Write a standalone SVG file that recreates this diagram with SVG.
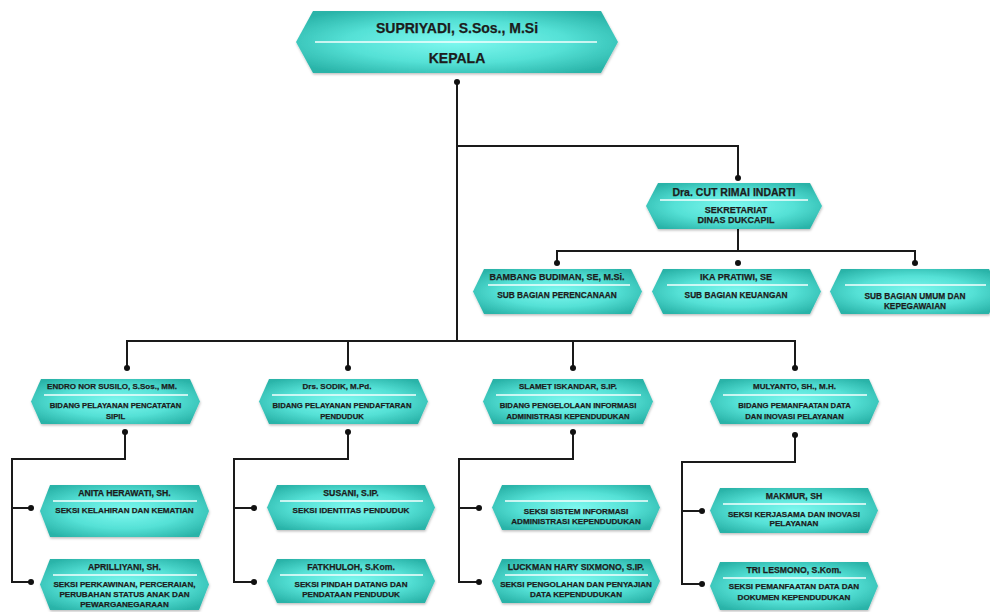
<svg xmlns="http://www.w3.org/2000/svg" width="990" height="612" viewBox="0 0 990 612">
<defs>
<radialGradient id="g" cx="50%" cy="50%" r="62%">
<stop offset="0" stop-color="#7ef8ef"/>
<stop offset="0.55" stop-color="#55e1d6"/>
<stop offset="1" stop-color="#29b3a8"/>
</radialGradient>
<filter id="sh" x="-10%" y="-20%" width="120%" height="150%">
<feDropShadow dx="0.5" dy="1.5" stdDeviation="1.2" flood-color="#000" flood-opacity="0.25"/>
</filter>
</defs>
<style>
.n{fill:url(#g);filter:url(#sh)}
.dv{stroke:#f4fffe;stroke-width:1.6}
text{font-family:"Liberation Sans",Arial,sans-serif;font-weight:bold;fill:#1c1c1c;stroke:#1c1c1c;stroke-width:0.25;text-anchor:middle}
.t1{font-size:14px}
.sn{font-size:10.5px}
.sb{font-size:9px}
.s2n{font-size:9px}
.s2b{font-size:8.3px}
.bn{font-size:8px}
.bb{font-size:7.7px}
.kn{font-size:8.7px}
.kb{font-size:8.1px}
.c{stroke:#1a1a1a;stroke-width:2;fill:none}
.d{fill:#111}
</style>
<rect width="990" height="612" fill="#fff"/>

<g id="connectors">
<path class="c" d="M457 82V341M457 146H738V178M738 229V251M557 263V251H915V263M127 368V341H795V368M348 341V368M573 341V368"/>
<path class="c" d="M125 432V459H12V582H31M12 508H31"/>
<path class="c" d="M348 432V459H234V582H254M234 508H254"/>
<path class="c" d="M573 432V459H459V582H479M459 508H479"/>
<path class="c" d="M795 435V462H682V584H702M682 511H702"/>
<g class="d">
<circle cx="457" cy="82" r="3"/><circle cx="738" cy="178" r="3"/>
<circle cx="557" cy="263" r="3"/><circle cx="738" cy="263" r="3"/><circle cx="915" cy="263" r="3"/>
<circle cx="127" cy="368" r="3"/><circle cx="348" cy="368" r="3"/><circle cx="573" cy="368" r="3"/><circle cx="795" cy="368" r="3"/>
<circle cx="125" cy="432" r="3"/><circle cx="348" cy="432" r="3"/><circle cx="573" cy="432" r="3"/><circle cx="795" cy="435" r="3"/>
<circle cx="31" cy="508" r="3"/><circle cx="31" cy="582" r="3"/>
<circle cx="254" cy="508" r="3"/><circle cx="254" cy="582" r="3"/>
<circle cx="479" cy="508" r="3"/><circle cx="479" cy="582" r="3"/>
<circle cx="702" cy="511" r="3"/><circle cx="702" cy="584" r="3"/>
</g>
</g>

<g id="kepala">
<polygon class="n" points="296,42 313,11 601,11 618,42 601,73 313,73"/>
<line class="dv" x1="315" y1="42" x2="597" y2="42"/>
<text class="t1" x="457" y="33">SUPRIYADI, S.Sos., M.Si</text>
<text class="t1" x="457" y="63">KEPALA</text>
</g>

<g id="sekretariat">
<polygon class="n" points="646,206 658,183 810,183 822,206 810,229 658,229"/>
<line class="dv" x1="660" y1="200" x2="808" y2="200"/>
<text class="sn" x="734" y="196">Dra. CUT RIMAI INDARTI</text>
<text class="sb" x="736" y="213">SEKRETARIAT</text>
<text class="sb" x="736" y="222.5">DINAS DUKCAPIL</text>
</g>

<g id="sub-perencanaan">
<polygon class="n" points="473,291.5 484,269 631,269 642,291.5 631,314 484,314"/>
<line class="dv" x1="488" y1="285" x2="630" y2="285"/>
<text class="s2n" x="557" y="280">BAMBANG BUDIMAN, SE, M.Si.</text>
<text class="s2b" x="557" y="298">SUB BAGIAN PERENCANAAN</text>
</g>

<g id="sub-keuangan">
<polygon class="n" points="652,291.5 663,269 810,269 821,291.5 810,314 663,314"/>
<line class="dv" x1="667" y1="285" x2="808" y2="285"/>
<text class="s2n" x="736" y="280">IKA PRATIWI, SE</text>
<text class="s2b" x="736" y="298">SUB BAGIAN KEUANGAN</text>
</g>

<g id="sub-umum">
<polygon class="n" points="830,291.5 841,269 989,269 1000,291.5 989,314 841,314"/>
<line class="dv" x1="845" y1="285" x2="986" y2="285"/>
<text class="s2b" x="915" y="299">SUB BAGIAN UMUM DAN</text>
<text class="s2b" x="915" y="309">KEPEGAWAIAN</text>
</g>

<g id="bidang-capil">
<polygon class="n" points="31,401.5 41,379 190,379 200,401.5 190,424 41,424"/>
<line class="dv" x1="44" y1="395" x2="188" y2="395"/>
<text class="bn" x="112" y="389">ENDRO NOR SUSILO, S.Sos., MM.</text>
<text class="bb" x="115.5" y="408">BIDANG PELAYANAN PENCATATAN</text>
<text class="bb" x="115.5" y="419">SIPIL</text>
</g>

<g id="bidang-dafduk">
<polygon class="n" points="259,401.5 269,379 418,379 428,401.5 418,424 269,424"/>
<line class="dv" x1="272" y1="395" x2="416" y2="395"/>
<text class="bn" x="337" y="389">Drs. SODIK, M.Pd.</text>
<text class="bb" x="342" y="408">BIDANG PELAYANAN PENDAFTARAN</text>
<text class="bb" x="342" y="419">PENDUDUK</text>
</g>

<g id="bidang-pia">
<polygon class="n" points="483,401.5 493,379 643,379 653,401.5 643,424 493,424"/>
<line class="dv" x1="496" y1="395" x2="641" y2="395"/>
<text class="bn" x="568" y="389">SLAMET ISKANDAR, S.IP.</text>
<text class="bb" x="568" y="408">BIDANG PENGELOLAAN INFORMASI</text>
<text class="bb" x="568" y="419">ADMINISTRASI KEPENDUDUKAN</text>
</g>

<g id="bidang-pdip">
<polygon class="n" points="710,401.5 720,379 869,379 879,401.5 869,424 720,424"/>
<line class="dv" x1="723" y1="395" x2="867" y2="395"/>
<text class="bn" x="794.5" y="389">MULYANTO, SH., M.H.</text>
<text class="bb" x="794.5" y="408">BIDANG PEMANFAATAN DATA</text>
<text class="bb" x="794.5" y="419">DAN INOVASI PELAYANAN</text>
</g>

<g id="seksi-kelahiran">
<polygon class="n" points="40,511 50,485 199,485 209,511 199,537 50,537"/>
<line class="dv" x1="53" y1="501" x2="197" y2="501"/>
<text class="kn" x="124.5" y="496">ANITA HERAWATI, SH.</text>
<text class="kb" x="124.5" y="513">SEKSI KELAHIRAN DAN KEMATIAN</text>
</g>

<g id="seksi-perkawinan">
<polygon class="n" points="40,584.5 50,559 199,559 209,584.5 199,610 50,610"/>
<line class="dv" x1="53" y1="575" x2="197" y2="575"/>
<text class="kn" x="124.5" y="570">APRILLIYANI, SH.</text>
<text class="kb" x="124.5" y="587">SEKSI PERKAWINAN, PERCERAIAN,</text>
<text class="kb" x="124.5" y="597">PERUBAHAN STATUS ANAK DAN</text>
<text class="kb" x="124.5" y="606.5">PEWARGANEGARAAN</text>
</g>

<g id="seksi-identitas">
<polygon class="n" points="267,507.5 277,485 425,485 435,507.5 425,530 277,530"/>
<line class="dv" x1="280" y1="501" x2="423" y2="501"/>
<text class="kn" x="351" y="496">SUSANI, S.IP.</text>
<text class="kb" x="351" y="513">SEKSI IDENTITAS PENDUDUK</text>
</g>

<g id="seksi-pindah">
<polygon class="n" points="267,581 277,559 425,559 435,581 425,603 277,603"/>
<line class="dv" x1="280" y1="575" x2="423" y2="575"/>
<text class="kn" x="351" y="570">FATKHULOH, S.Kom.</text>
<text class="kb" x="351" y="587">SEKSI PINDAH DATANG DAN</text>
<text class="kb" x="351" y="597">PENDATAAN PENDUDUK</text>
</g>

<g id="seksi-sistem">
<polygon class="n" points="492,507.5 502,485 650,485 660,507.5 650,530 502,530"/>
<line class="dv" x1="505" y1="501" x2="648" y2="501"/>
<text class="kb" x="576" y="514">SEKSI SISTEM INFORMASI</text>
<text class="kb" x="576" y="524">ADMINISTRASI KEPENDUDUKAN</text>
</g>

<g id="seksi-pengolahan">
<polygon class="n" points="492,581 502,559 650,559 660,581 650,603 502,603"/>
<line class="dv" x1="505" y1="575" x2="648" y2="575"/>
<text class="kn" x="576" y="570">LUCKMAN HARY SIXMONO, S.IP.</text>
<text class="kb" x="576" y="587">SEKSI PENGOLAHAN DAN PENYAJIAN</text>
<text class="kb" x="576" y="597">DATA KEPENDUDUKAN</text>
</g>

<g id="seksi-kerjasama">
<polygon class="n" points="710,510.5 720,488 868,488 878,510.5 868,533 720,533"/>
<line class="dv" x1="723" y1="504" x2="866" y2="504"/>
<text class="kn" x="794" y="499">MAKMUR, SH</text>
<text class="kb" x="794" y="517">SEKSI KERJASAMA DAN INOVASI</text>
<text class="kb" x="794" y="526">PELAYANAN</text>
</g>

<g id="seksi-pemanfaatan">
<polygon class="n" points="710,586 720,562 868,562 878,586 868,610 720,610"/>
<line class="dv" x1="723" y1="578" x2="866" y2="578"/>
<text class="kn" x="794" y="573">TRI LESMONO, S.Kom.</text>
<text class="kb" x="794" y="589">SEKSI PEMANFAATAN DATA DAN</text>
<text class="kb" x="794" y="600">DOKUMEN KEPENDUDUKAN</text>
</g>
</svg>
